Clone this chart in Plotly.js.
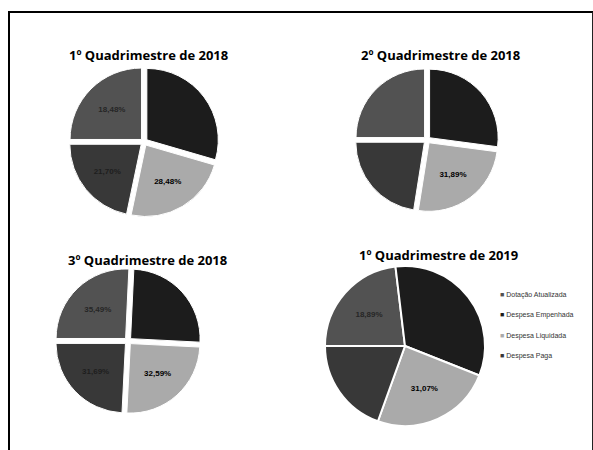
<!DOCTYPE html>
<html>
<head>
<meta charset="utf-8">
<script src="https://cdn.plot.ly/plotly-3.0.1.min.js"></script>
<style>
  html, body { margin: 0; padding: 0; background: #fff; }
  #wrap { position: relative; width: 593px; height: 450px; }
  #chart { width: 593px; height: 450px; }
  #frame { position: absolute; left: 8px; top: 11px; width: 582px; height: 460px;
           border-left: 2px solid #000; border-top: 2px solid #000; border-right: 2px solid #222;
           pointer-events: none; }
</style>
</head>
<body>
<div id="wrap">
  <div id="chart"></div>
  <div id="frame"></div>
</div>
<script>
// ---- data ----
const categories = ["Dotação Atualizada", "Despesa Empenhada", "Despesa Liquidada", "Despesa Paga"];
const sliceColors = ["#525252", "#1c1c1c", "#aaaaaa", "#383838"];
const chartTitles = ["1º Quadrimestre de 2018", "2º Quadrimestre de 2018", "3º Quadrimestre de 2018", "1º Quadrimestre de 2019"];

const q1_2018 = [25.0, 29.5, 23.8, 21.7];
const q2_2018 = [25.0, 27.1, 25.4, 22.5];
const q3_2018 = [25.75, 25.05, 25.0, 24.2];
const q1_2019 = [23.1, 32.9, 24.5, 19.5];

const q1_2018_labels = ["18,48%", "", "28,48%", "21,70%"];
const q2_2018_labels = ["", "", "31,89%", ""];
const q3_2018_labels = ["35,49%", "", "32,59%", "31,69%"];
const q1_2019_labels = ["18,89%", "", "31,07%", ""];

// ---- layout helpers (pixel -> paper) ----
const W = 593, H = 450;
function dom(cx, cy, r) {
  return { x: [(cx - r) / W, (cx + r) / W], y: [1 - (cy + r) / H, 1 - (cy - r) / H] };
}

function pie(values, text, domain, pull, lineW) {
  return {
    type: "pie",
    labels: categories,
    values: values,
    text: text,
    textinfo: "text",
    textposition: "inside",
    insidetextorientation: "horizontal",
    textfont: { family: "Liberation Sans, Arial, sans-serif", size: 8, color: ["#262626", "#111", "#000", "#1e1e1e"], weight: "bold" },
    sort: false,
    direction: "clockwise",
    rotation: 270,
    pull: pull,
    marker: { colors: sliceColors, line: { color: "#ffffff", width: lineW } },
    domain: domain,
    showlegend: false,
    hoverinfo: "label+percent"
  };
}

const data = [
  pie(q1_2018, q1_2018_labels, dom(144, 142, 75), 0.05, 1),
  pie(q2_2018, q2_2018_labels, dom(427, 140, 72), 0.05, 1),
  pie(q3_2018, q3_2018_labels, dom(128, 341, 73), 0.05, 1),
  pie(q1_2019, q1_2019_labels, dom(405, 346, 80), 0, 2)
];

const titlePos = [[148, 55], [440, 55], [147, 260], [438, 255]];
const annotations = chartTitles.map((t, i) => ({
  text: "<b>" + t + "</b>",
  x: titlePos[i][0] / W, y: 1 - titlePos[i][1] / H,
  xref: "paper", yref: "paper", xanchor: "center", yanchor: "middle",
  showarrow: false,
  font: { family: "Open Sans, Liberation Sans, sans-serif", size: 13, color: "#000" }
}));

// legend (as text entries with coloured squares)
const legendY = [295, 315, 336, 356];
categories.forEach((c, i) => {
  annotations.push({
    text: '<span style="color:' + sliceColors[i] + '">■</span> ' + c,
    x: 498 / W, y: 1 - legendY[i] / H,
    xref: "paper", yref: "paper", xanchor: "left", yanchor: "middle",
    showarrow: false,
    font: { family: "Liberation Sans, Arial, sans-serif", size: 7, color: "#333" }
  });
});

const layout = {
  width: W, height: H,
  margin: { l: 0, r: 0, t: 0, b: 0 },
  paper_bgcolor: "#ffffff",
  plot_bgcolor: "#ffffff",
  showlegend: false,
  annotations: annotations
};

Plotly.newPlot("chart", data, layout, { displayModeBar: false, staticPlot: true });
</script>
</body>
</html>
